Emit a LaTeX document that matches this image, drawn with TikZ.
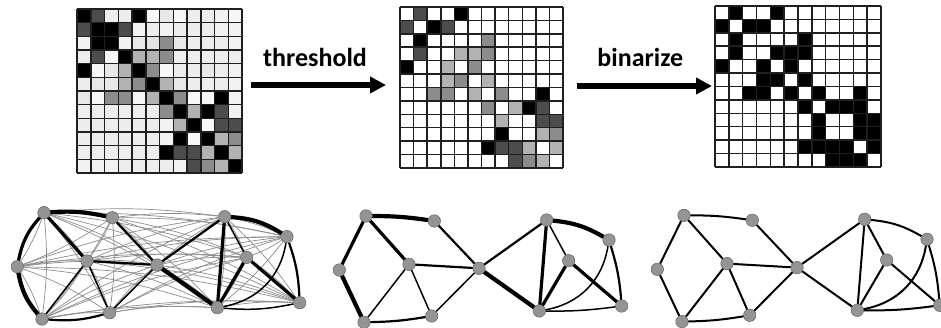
\documentclass[tikz,border=0pt]{standalone}
\usepackage{fontspec}
\setmainfont{Carlito}
\usetikzlibrary{arrows.meta}
\pgfdeclarelayer{bg}
\pgfsetlayers{bg,main}
% matrix 1 colours (weighted)
\colorlet{Ak}{black}\colorlet{Aa}{black!70}\colorlet{Ab}{black!45}\colorlet{Ac}{black!30}
\colorlet{Al}{black!7}\colorlet{Av}{black!5}\colorlet{Aw}{black!3}\colorlet{Am}{black!9}\colorlet{An}{black!11}
% matrix 2 colours (thresholded)
\colorlet{Bk}{black}\colorlet{Ba}{black!70}\colorlet{Bb}{black!45}\colorlet{Bc}{black!30}
\colorlet{Bl}{white}\colorlet{Bv}{white}\colorlet{Bw}{white}\colorlet{Bm}{white}\colorlet{Bn}{white}
% matrix 3 colours (binarized)
\colorlet{Ck}{black}\colorlet{Ca}{black}\colorlet{Cb}{black}\colorlet{Cc}{black}
\colorlet{Cl}{white}\colorlet{Cv}{white}\colorlet{Cw}{white}\colorlet{Cm}{white}\colorlet{Cn}{white}
\def\mdata{{k,a,l,l,k,w,m,w,l,l,v,w},{a,k,k,a,v,l,v,l,l,l,v,v},{v,k,k,v,m,n,b,m,l,l,l,v},{l,a,w,k,c,c,b,l,l,l,l,l},{k,w,m,c,k,b,w,l,l,m,l,v},{l,m,m,c,b,k,c,m,l,l,l,v},{m,w,b,b,w,c,k,b,w,w,k,v},{l,l,l,l,l,l,b,k,c,k,a,v},{l,l,l,l,l,l,v,c,k,w,a,a},{l,l,l,l,l,l,v,k,w,k,c,b},{l,l,l,l,l,l,k,a,a,c,k,c},{v,v,v,l,l,l,l,v,a,b,c,k}}
\newcommand\drawmat[7]{%
  \pgfmathsetmacro\cw{#4/12}%
  \pgfmathsetmacro\ch{#5/12}%
  \foreach \rowlist [count=\r from 0] in \mdata {
    \foreach \v [count=\c from 0] in \rowlist {
      \edef\cc{#6\v}%
      \ifnum\r=\c \ifnum#7=1 \def\cc{white}\fi\fi
      \fill[fill=\cc] ({#2+\c*\cw},{#3+\r*\ch}) rectangle ++(\cw,\ch);
    }
  }
  \foreach \i in {0,...,12} {
    \draw[gridline] ({#2+\i*\cw},#3) -- ++(0,#5);
    \draw[gridline] (#2,{#3+\i*\ch}) -- ++(#4,0);
  }
  \node[inner sep=0pt, minimum width=#4pt, minimum height=#5pt, anchor=north west] (#1) at (#2,#3) {};
}
\newcommand\gnodes[1]{%
  \node[gnode] (#1A) at (366,216) {};
  \node[gnode] (#1B) at (434.3,221) {};
  \node[gnode] (#1C) at (339.3,270) {};
  \node[gnode] (#1D) at (409,264.3) {};
  \node[gnode] (#1E) at (364,322.3) {};
  \node[gnode] (#1F) at (431.7,316) {};
  \node[gnode] (#1G) at (479,268.3) {};
  \node[gnode] (#1H) at (546.7,220) {};
  \node[gnode] (#1I) at (609,240) {};
  \node[gnode] (#1J) at (568.7,260.7) {};
  \node[gnode] (#1K) at (539.3,311) {};
  \node[gnode] (#1L) at (621.7,306) {};
}
\newcommand\gedges[5]{%
  \draw[#2] (#1A) to[bend left=4] (#1B);
  \draw[#2] (#1C) -- (#1E);
  \draw[#2] (#1G) -- (#1K);
  \draw[#2] (#1H) to[bend left=12] (#1I);
  \draw[#3] (#1A) -- (#1C);
  \draw[#3] (#1A) -- (#1D);
  \draw[#3] (#1H) -- (#1K);
  \draw[#3] (#1J) -- (#1K);
  \draw[#3] (#1J) -- (#1L);
  \draw[#4] (#1B) -- (#1G);
  \draw[#4] (#1D) -- (#1G);
  \draw[#4] (#1E) to[bend right=4] (#1F);
  \draw[#4] (#1G) -- (#1H);
  \draw[#4] (#1I) to[bend left=6] (#1L);
  \draw[#5] (#1D) -- (#1E);
  \draw[#5] (#1D) -- (#1F);
  \draw[#5] (#1F) -- (#1G);
  \draw[#5] (#1H) -- (#1J);
  \draw[#5] (#1K) to[bend right=35] (#1I);
  \draw[#5] (#1K) to[bend right=4] (#1L);
}
\tikzset{
  gridline/.style={draw=black!88, line width=1.5pt},
  gnode/.style={circle, fill=black!42, draw=black!60, line width=0.5pt, minimum size=12.5pt, inner sep=0pt},
  ew4/.style={line width=4.2pt, line cap=round},
  ew3/.style={line width=3.2pt, line cap=round},
  ew2/.style={line width=2.2pt, line cap=round},
  ew1/.style={line width=1.5pt, line cap=round},
  ewb/.style={line width=2pt, line cap=round},
  ewthin/.style={draw=black!45, line width=0.7pt},
  bigarrow/.style={line width=5.5pt, -{Triangle[length=16pt, width=16pt]}},
  lbl/.style={font=\fontsize{26}{30}\selectfont\bfseries, inner sep=0pt, anchor=base}
}
\begin{document}
\begin{tikzpicture}[x=1pt, y=-1pt]
\useasboundingbox (0,0) rectangle (941,328);
% matrices
\drawmat{m1}{77}{9}{165}{164}{A}{0}
\drawmat{m2}{400}{7}{163}{161}{B}{1}
\drawmat{m3}{715}{6}{166}{161}{C}{1}
% arrows and labels
\coordinate (a1s) at (251,85);
\coordinate (a1e) at (386,85);
\coordinate (a2s) at (577,86);
\coordinate (a2e) at (712,86);
\draw[bigarrow] (a1s) -- (a1e);
\draw[bigarrow] (a2s) -- (a2e);
\node[lbl] (l1) at (315,66.7) {threshold};
\node[lbl] (l2) at (640.3,66.7) {binarize};
% graph 1 (fully connected, weighted)
\begin{scope}[shift={(-322,-3.3)}]
  \gnodes{p}
  \begin{pgfonlayer}{bg}
    \foreach \a [count=\i] in {A,B,C,D,E,F,G,H,I,J,K,L} {
      \foreach \b [count=\j] in {A,B,C,D,E,F,G,H,I,J,K,L} {
        \ifnum\i<\j \draw[ewthin] (p\a) to[bend left=6] (p\b); \fi
      }
    }
    \draw[ew4] (pA) to[bend left=8] (pB);
    \draw[ew4] (pC) to[bend right=15] (pE);
    \draw[ew4] (pG) -- (pK);
    \draw[ew4] (pH) to[bend left=14] (pI);
    \draw[ew3] (pA) to[bend right=15] (pC);
    \draw[ew3] (pA) -- (pD);
    \draw[ew3] (pH) -- (pK);
    \draw[ew3] (pJ) -- (pK);
    \draw[ew3] (pJ) -- (pL);
    \draw[ew2] (pB) -- (pG);
    \draw[ew2] (pD) -- (pG);
    \draw[ew2] (pE) to[bend right=10] (pF);
    \draw[ew2] (pG) -- (pH);
    \draw[ew2] (pI) to[bend left=8] (pL);
    \draw[ew1] (pD) -- (pE);
    \draw[ew1] (pD) -- (pF);
    \draw[ew1] (pF) -- (pG);
    \draw[ew1] (pH) -- (pJ);
    \draw[ew1] (pK) to[bend right=35] (pI);
    \draw[ew1] (pK) to[bend right=8] (pL);
  \end{pgfonlayer}
\end{scope}
% graph 2 (thresholded, weighted)
\gnodes{q}
\begin{pgfonlayer}{bg}
  \gedges{q}{ew4}{ew3}{ew2}{ew1}
\end{pgfonlayer}
% graph 3 (binarized)
\begin{scope}[shift={(318,-0.7)}]
  \gnodes{r}
  \begin{pgfonlayer}{bg}
    \gedges{r}{ewb}{ewb}{ewb}{ewb}
  \end{pgfonlayer}
\end{scope}
\end{tikzpicture}
\end{document}
